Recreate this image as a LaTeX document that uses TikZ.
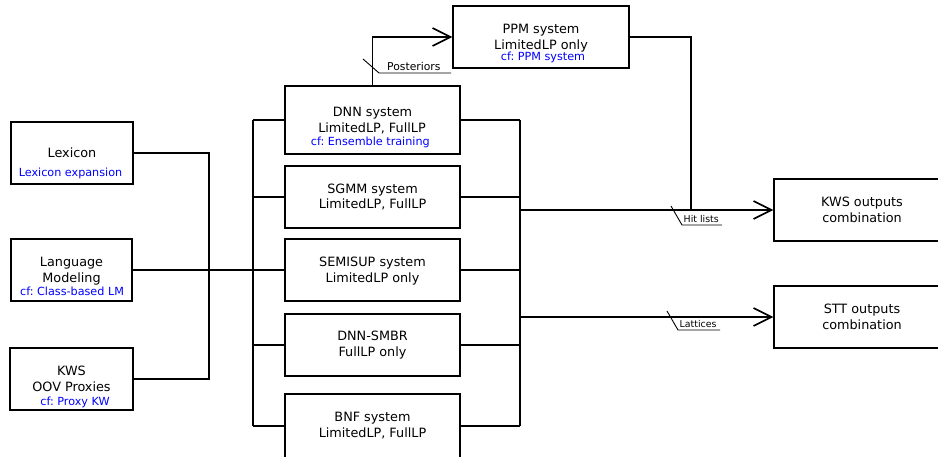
\documentclass[tikz,border=0pt]{standalone}
\usepackage{fontspec}
\setmainfont{DejaVu Sans}
\usetikzlibrary{arrows.meta}
\frenchspacing
\begin{document}
\frenchspacing
\begin{tikzpicture}[x=1pt,y=-1pt,line width=1.4pt,
  box/.style={draw,line width=1.4pt,inner sep=0pt,rectangle},
  txt/.style={anchor=base,inner sep=0pt,font=\fontsize{12.8}{15}\selectfont},
  cftxt/.style={anchor=base,inner sep=0pt,text=blue,font=\fontsize{11.2}{13}\selectfont},
  lab/.style={anchor=base west,inner sep=0pt,font=\fontsize{10.8}{12}\selectfont},
  smalllab/.style={anchor=base west,inner sep=0pt,font=\fontsize{9.4}{11}\selectfont},
  tick/.style={line width=0.9pt},
  bold/.style={line width=2.2pt},
  arr/.style={-{Straight Barb[length=18pt,width=18pt,line width=1.6pt]}}]
\useasboundingbox (0,0) rectangle (938,457);
\clip (0,0) rectangle (938,457);

% left boxes
\node[box,minimum width=122pt,minimum height=62pt] (lex) at (72,153) {};
\node[box,minimum width=121pt,minimum height=62pt] (lm) at (71.5,270) {};
\node[box,minimum width=123pt,minimum height=62pt] (kws) at (71.5,379) {};
% systems
\node[box,minimum width=175pt,minimum height=68pt] (dnn) at (372.5,120) {};
\node[box,minimum width=175pt,minimum height=62pt] (sgmm) at (372.5,197) {};
\node[box,minimum width=175pt,minimum height=62pt] (semi) at (372.5,270) {};
\node[box,minimum width=175pt,minimum height=62pt] (smbr) at (372.5,345) {};
\node[box,minimum width=175pt,minimum height=64pt] (bnf) at (372.5,426) {};
\node[box,minimum width=176pt,minimum height=62pt] (ppm) at (541,37) {};
% outputs
\node[box,minimum width=176pt,minimum height=62pt] (kwsc) at (862,210) {};
\node[box,minimum width=176pt,minimum height=62pt] (stt) at (862,317) {};

% texts
\node[txt] (t1) at (72,158) {Lexicon};
\node[cftxt] (t2) at (70.5,177) {Lexicon expansion};
\node[txt] (t3) at (71.5,266.7) {Language};
\node[txt] (t4) at (71.5,282.7) {Modeling};
\node[cftxt] (t5) at (72,295.5) {cf: Class-based LM};
\node[txt] (t6) at (71.5,375) {KWS};
\node[txt] (t7) at (71.5,391.7) {OOV Proxies};
\node[cftxt] (t8) at (75,405) {cf: Proxy KW};
\node[txt] (t9) at (372.5,116.7) {DNN system};
\node[txt] (t10) at (372,132.3) {LimitedLP, FullLP};
\node[cftxt] (t11) at (370.3,146) {cf: Ensemble training};
\node[txt] (t12) at (372.5,193.3) {SGMM system};
\node[txt] (t13) at (372.5,208.3) {LimitedLP, FullLP};
\node[txt] (t14) at (372.5,266.7) {SEMISUP system};
\node[txt] (t15) at (372.5,282.5) {LimitedLP only};
\node[txt] (t16) at (372.5,341) {DNN-SMBR};
\node[txt] (t17) at (372.5,356.7) {FullLP only};
\node[txt] (t18) at (372.5,421.7) {BNF system};
\node[txt] (t19) at (372.5,437.3) {LimitedLP, FullLP};
\node[txt] (t20) at (541,33.3) {PPM system};
\node[txt] (t21) at (541,49.3) {LimitedLP only};
\node[cftxt] (t22) at (543,61) {cf: PPM system};
\node[txt] (t23) at (862,206.7) {KWS outputs};
\node[txt] (t24) at (862,222.7) {combination};
\node[txt] (t25) at (862,313.3) {STT outputs};
\node[txt] (t26) at (862,330) {combination};

% bus coordinates
\coordinate (ib) at (209,270);
\coordinate (lb) at (253,0);
\coordinate (rb) at (520,0);
\coordinate (pj) at (691,210);

% inputs to first bus
\draw (lex.east) -| (ib);
\draw (kws.east) -| (ib);
\draw (lm.east) -- (ib);
\draw[bold] (ib) -- (semi.west);
% left bus of systems
\draw (dnn.west -| lb) -- (bnf.west -| lb);
\foreach \b in {dnn,sgmm,smbr,bnf} \draw (\b.west) -- (\b.west -| lb);
% right bus of systems
\draw (dnn.east -| rb) -- (bnf.east -| rb);
\foreach \b in {dnn,sgmm,semi,smbr,bnf} \draw (\b.east) -- (\b.east -| rb);
% outputs
\draw[arr,line width=1.6pt] (rb |- kwsc.west) -- (kwsc.west);
\draw[arr,bold] (rb |- stt.west) -- (stt.west);
% PPM
\draw[arr] (dnn.north) |- (ppm.west);
\draw (ppm.east) -| (pj);

% labels
\draw[tick] (363,59) -- (379,73) -- (451,73);
\node[lab] (lp) at (386.5,71) {Posteriors};
\draw[tick] (671,206) -- (682,225) -- (722,225);
\node[smalllab] (lh) at (683,223) {Hit lists};
\draw[tick] (667,311) -- (678,330) -- (720,330);
\node[smalllab] (ll) at (679,328) {Lattices};
\end{tikzpicture}
\end{document}
